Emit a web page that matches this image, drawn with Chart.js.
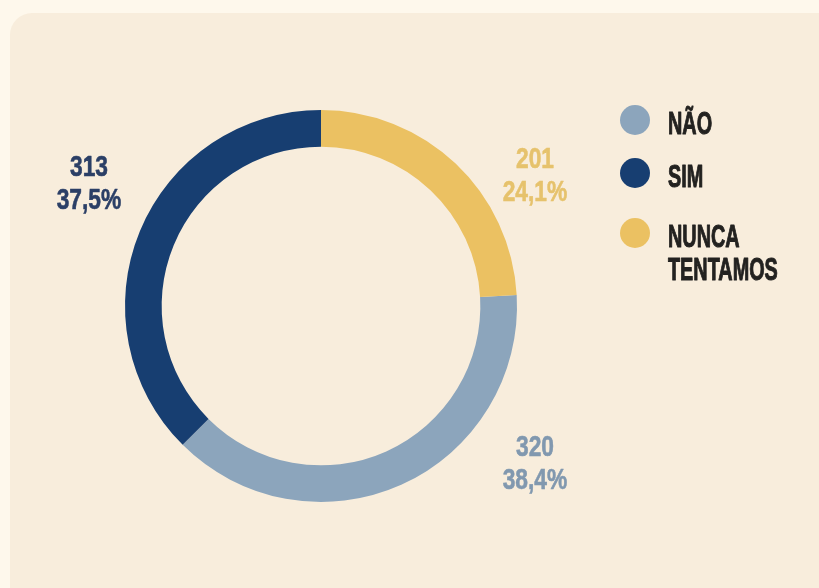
<!DOCTYPE html>
<html>
<head>
<meta charset="utf-8">
<script src="https://cdn.jsdelivr.net/npm/chart.js@4.4.1/dist/chart.umd.min.js"></script>
<style>
  html, body { margin: 0; padding: 0; background: #fef8ec; overflow: hidden; }
  body { width: 819px; height: 588px; position: relative; }
  .card {
    position: absolute; left: 10px; top: 13px; width: 880px; height: 640px;
    background: #f8eddc; border-radius: 22px;
  }
  #chart { position: absolute; left: 0; top: 0; }
</style>
</head>
<body>
<div class="card"></div>
<canvas id="chart" width="819" height="588"></canvas>
<script>
// answers, in legend order
const labels = ["NÃO", "SIM", "NUNCA TENTAMOS"];
const counts = [320, 313, 201];
const percentLabels = ["38,4%", "37,5%", "24,1%"];
const colors = ["#8ca5bc", "#173e71", "#ebc162"];
const textColors = ["#8198af", "#2b3f66", "#e6c26c"];

const total = counts.reduce((a, b) => a + b, 0);
// start NÃO where NUNCA TENTAMOS ends, so NUNCA TENTAMOS sits at 12 o'clock
const startAngle = (counts[2] / total) * 360;

// value labels, offset from the ring centre
const labelOffsets = [[214, 156], [-232, -124], [214, -132]];

const FONT = '"Liberation Sans", Arial, sans-serif';

// condensed, slightly heavier text
function squeezedText(ctx, text, x, y, sx, align, weight) {
  ctx.save();
  ctx.translate(x, y);
  ctx.scale(sx, 1);
  ctx.textAlign = align;
  ctx.fillText(text, 0, 0);
  if (weight) {
    ctx.strokeStyle = ctx.fillStyle;
    ctx.lineWidth = weight;
    ctx.lineJoin = "round";
    ctx.strokeText(text, 0, 0);
  }
  ctx.restore();
}

const annotations = {
  id: "annotations",
  afterDatasetsDraw(chart) {
    const ctx = chart.ctx;
    const arc = chart.getDatasetMeta(0).data[0];
    const cx = arc.x, cy = arc.y;

    // count + percentage beside each slice
    ctx.font = "bold 30px " + FONT;
    ctx.textBaseline = "alphabetic";
    counts.forEach((v, i) => {
      const [dx, dy] = labelOffsets[i];
      ctx.fillStyle = textColors[i];
      squeezedText(ctx, String(v), cx + dx, cy + dy - 16.5 + 10.7, 0.76, "center", 0.6);
      squeezedText(ctx, percentLabels[i], cx + dx, cy + dy + 16.5 + 10.7, 0.76, "center", 0.6);
    });

    // legend
    const rowY = [120, 173, 233];
    ctx.font = "bold 31px " + FONT;
    labels.forEach((name, i) => {
      ctx.fillStyle = colors[i];
      ctx.beginPath();
      ctx.arc(635, rowY[i], 15, 0, Math.PI * 2);
      ctx.fill();
      ctx.fillStyle = "#232220";
      const words = name.split(" ");
      const top = rowY[i] + 3;
      if (words.length > 1) {
        squeezedText(ctx, words[0], 668, top + 11, 0.64, "left", 1);
        squeezedText(ctx, words.slice(1).join(" "), 668, top + 33 + 11, 0.64, "left", 1);
      } else {
        squeezedText(ctx, name, 668, top + 11, 0.64, "left", 1);
      }
    });
  }
};

new Chart(document.getElementById("chart"), {
  type: "doughnut",
  data: {
    labels: labels,
    datasets: [{
      data: counts,
      backgroundColor: colors,
      borderWidth: 0,
      hoverOffset: 0
    }]
  },
  options: {
    responsive: false,
    animation: false,
    rotation: startAngle,
    radius: 196,
    cutout: "81.3%",
    layout: { padding: { left: 0, right: 177, top: 24, bottom: 0 } },
    plugins: {
      legend: { display: false },
      tooltip: { enabled: false }
    }
  },
  plugins: [annotations]
});
</script>
</body>
</html>
